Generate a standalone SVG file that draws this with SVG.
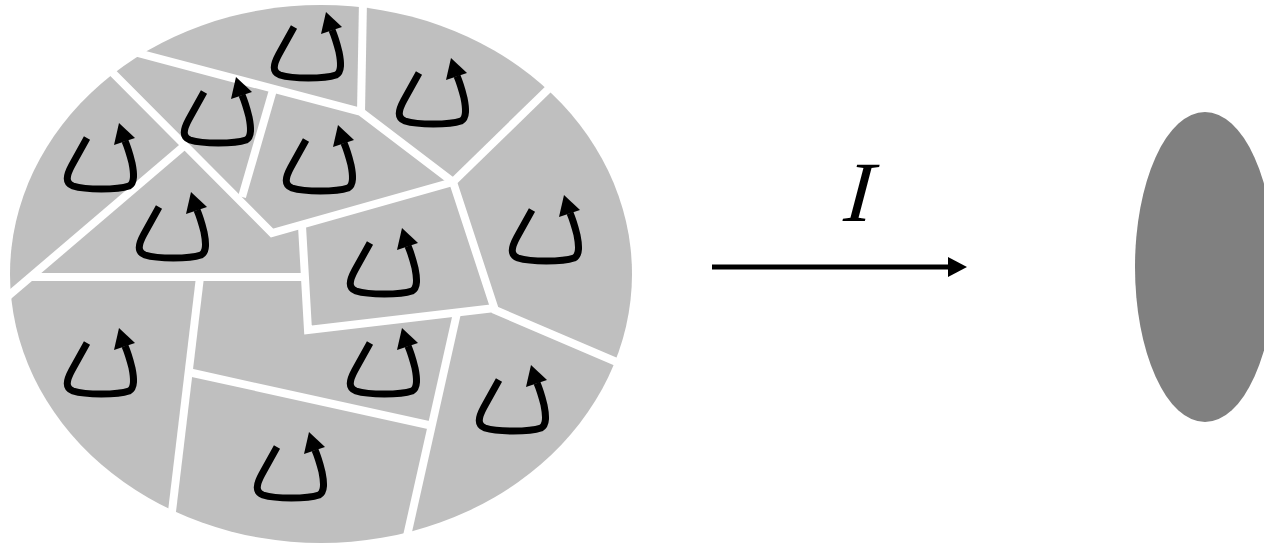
<svg xmlns="http://www.w3.org/2000/svg" xmlns:xlink="http://www.w3.org/1999/xlink" width="1264" height="544" viewBox="0 0 1264 544">
<style>
.cut{stroke:#ffffff;stroke-width:8;fill:none;stroke-linejoin:miter;stroke-linecap:butt}
.loop{stroke:#000;stroke-width:7;fill:none;stroke-linecap:butt;stroke-linejoin:round}
.lab{font-family:"Liberation Serif","Times New Roman",serif;font-style:italic;font-size:86px;fill:#000}
</style>
<defs>
<g id="loopArrow">
<path class="loop" d="M -32,15 L -47,42 C -53,53 -54,60 -46,63 C -33,67 -2,67 10,63 C 16,60 15,50 13,40 C 11,32 9,25 6,18"/>
<polygon points="0,0 -5,22 16,15" fill="#000"/>
</g>
</defs>
<g id="partitioned-set">
<ellipse cx="321" cy="274" rx="311" ry="269" fill="#bfbfbf"/>
<g id="cuts">
<polyline class="cut" points="363,0 361,112"/>
<polyline class="cut" points="100,43 361,112 453,182"/>
<polyline class="cut" points="453,182 570,68"/>
<polyline class="cut" points="453,182 495,310 640,372"/>
<polyline class="cut" points="453,182 272,233 95,55"/>
<polyline class="cut" points="184,146 0,303"/>
<polyline class="cut" points="242,197 273,90"/>
<polyline class="cut" points="302,226 308,330 495,308"/>
<polyline class="cut" points="31,277 304,277"/>
<polyline class="cut" points="200,277 168,545"/>
<polyline class="cut" points="188,372 433,426"/>
<polyline class="cut" points="457,313 405,545"/>
</g>
<g id="loops">
<use xlink:href="#loopArrow" x="326" y="12"/>
<use xlink:href="#loopArrow" x="451" y="58"/>
<use xlink:href="#loopArrow" x="236" y="77"/>
<use xlink:href="#loopArrow" x="119" y="123"/>
<use xlink:href="#loopArrow" x="338" y="125"/>
<use xlink:href="#loopArrow" x="191" y="192"/>
<use xlink:href="#loopArrow" x="564" y="195"/>
<use xlink:href="#loopArrow" x="402" y="228"/>
<use xlink:href="#loopArrow" x="119" y="328"/>
<use xlink:href="#loopArrow" x="402" y="328"/>
<use xlink:href="#loopArrow" x="531" y="365"/>
<use xlink:href="#loopArrow" x="309" y="432"/>
</g>
</g>
<g id="connectors">
<line x1="712" y1="267" x2="950" y2="267" stroke="#000" stroke-width="5"/>
<polygon points="948,257 967,267 948,277" fill="#000"/>
</g>
<text class="lab" transform="translate(857,221) skewX(-5)" x="0" y="0" text-anchor="middle">I</text>
<g id="image-set">
<ellipse cx="1205" cy="267" rx="70" ry="155" fill="#808080"/>
</g>
</svg>
